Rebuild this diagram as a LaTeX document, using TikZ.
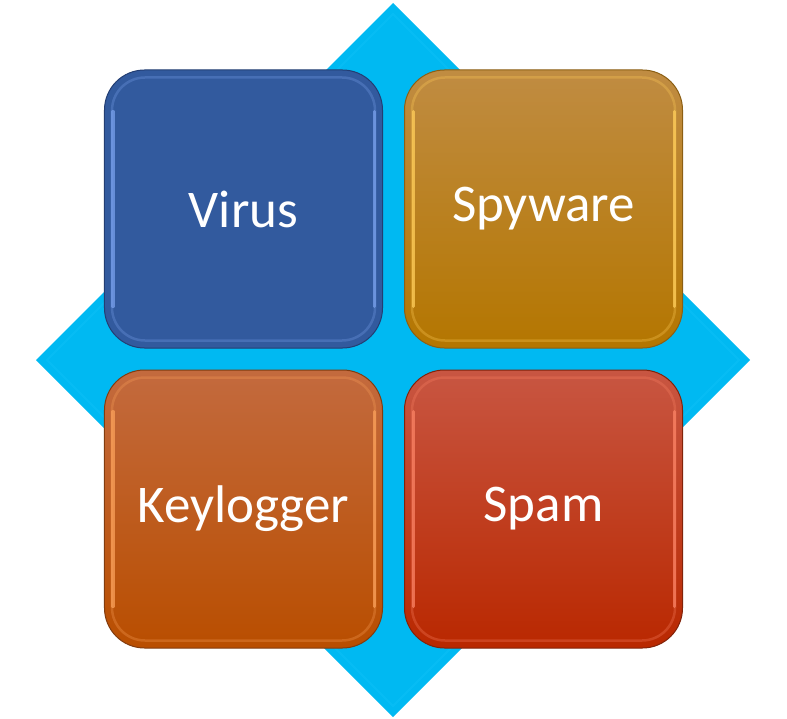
\documentclass[tikz,border=0pt]{standalone}
\usepackage{fontspec}
\setmainfont{Carlito}
\definecolor{diam}{RGB}{0,185,242}
\definecolor{diamedge}{RGB}{20,195,250}
\definecolor{virusfill}{RGB}{50,90,158}
\definecolor{virusedge}{RGB}{35,62,115}
\definecolor{virushl}{RGB}{120,160,235}
\definecolor{spytop}{RGB}{192,140,66}
\definecolor{spybot}{RGB}{180,118,0}
\definecolor{spyedge}{RGB}{140,95,20}
\definecolor{spyhl}{RGB}{255,205,90}
\definecolor{keytop}{RGB}{195,106,62}
\definecolor{keybot}{RGB}{185,78,0}
\definecolor{keyedge}{RGB}{130,60,15}
\definecolor{keyhl}{RGB}{250,160,90}
\definecolor{spamtop}{RGB}{200,86,66}
\definecolor{spambot}{RGB}{185,40,0}
\definecolor{spamedge}{RGB}{130,35,10}
\definecolor{spamhl}{RGB}{250,130,100}
\tikzset{
  tile/.style={rounded corners=40bp, minimum width=278bp, minimum height=278bp,
    inner sep=0pt, text=white, font=\fontsize{53bp}{60bp}\selectfont, line width=1bp},
  bevel/.style={rounded corners=33bp, line width=2.5bp, opacity=0.3},
  sidehl/.style={line width=3bp, opacity=0.75, line cap=round},
}
\newcommand{\tilebevel}[2]{%
  \draw[bevel, #2] ([shift={(8,8)}]#1.north west) rectangle ([shift={(-8,-8)}]#1.south east);
  \draw[sidehl, #2] ([shift={(9,42)}]#1.north west) -- ([shift={(9,-42)}]#1.south west);
  \draw[sidehl, #2] ([shift={(-9,42)}]#1.north east) -- ([shift={(-9,-42)}]#1.south east);
}
\begin{document}
\begin{tikzpicture}[x=1bp,y=-1bp]
\useasboundingbox (0,0) rectangle (787,719);
% diamond
\coordinate (dt) at (393,3);
\coordinate (dr) at (750,360);
\coordinate (db) at (393,717);
\coordinate (dl) at (36,360);
\fill[diam] (dt) -- (dr) -- (db) -- (dl) -- cycle;
\draw[diamedge, line width=2bp, opacity=0.35] (393,14) -- (739,360) -- (393,706) -- (47,360) -- cycle;
% tiles
\node[tile, fill=virusfill, draw=virusedge] (virus) at (243.5,209) {Virus};
\node[tile, top color=spytop, bottom color=spybot, draw=spyedge] (spy) at (543.5,209) {Spyware};
\node[tile, top color=keytop, bottom color=keybot, draw=keyedge] (key) at (243.5,509) {Keylogger};
\node[tile, top color=spamtop, bottom color=spambot, draw=spamedge] (spam) at (543.5,509) {Spam};
% bevels
\tilebevel{virus}{virushl}
\tilebevel{spy}{spyhl}
\tilebevel{key}{keyhl}
\tilebevel{spam}{spamhl}
\end{tikzpicture}
\end{document}
